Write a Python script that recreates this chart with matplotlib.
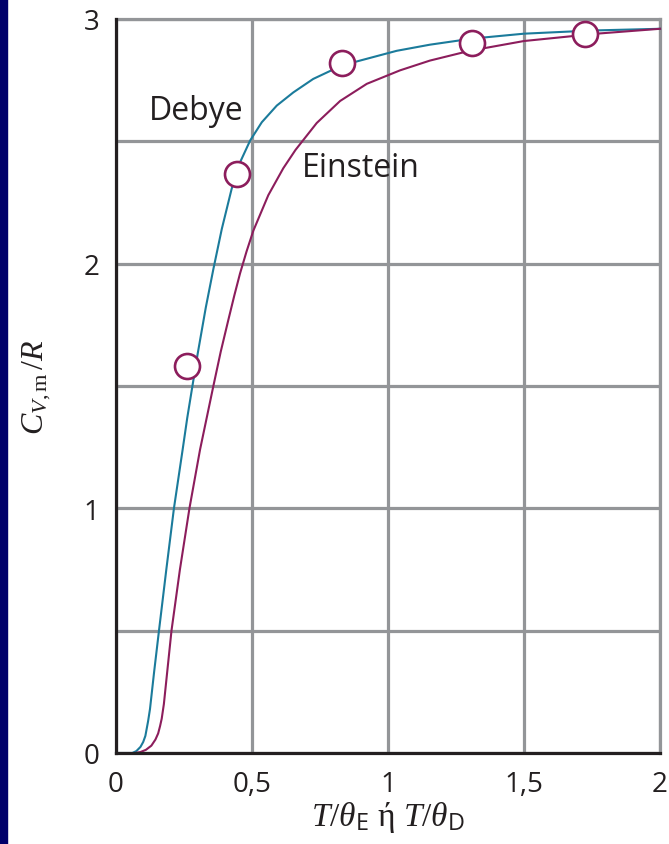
import numpy as np
import matplotlib
matplotlib.use('Agg')
import matplotlib.pyplot as plt
from matplotlib.patches import Rectangle

# Debye curve
debye_t = [0.0, 0.06, 0.075, 0.09, 0.10, 0.108, 0.113, 0.118, 0.125, 0.14, 0.158, 0.185,
           0.213, 0.245, 0.262, 0.281, 0.30, 0.33, 0.358, 0.389, 0.425, 0.456, 0.493,
           0.536, 0.591, 0.652, 0.725, 0.83, 0.897, 1.032, 1.154, 1.31, 1.5, 1.75, 2.0]
debye_c = [0.0, 0.0, 0.008, 0.025, 0.045, 0.07, 0.10, 0.13, 0.18, 0.33, 0.50, 0.75,
           1.0, 1.24, 1.37, 1.5, 1.63, 1.82, 1.978, 2.142, 2.305, 2.414, 2.503,
           2.578, 2.646, 2.70, 2.755, 2.81, 2.83, 2.87, 2.895, 2.92, 2.94, 2.953, 2.96]

# Einstein curve
einstein_t = [0.07, 0.09, 0.11, 0.13, 0.145, 0.155, 0.162, 0.168, 0.176, 0.19, 0.204,
              0.235, 0.27, 0.309, 0.358, 0.385, 0.413, 0.435, 0.456, 0.48, 0.505, 0.56,
              0.615, 0.66, 0.738, 0.824, 0.922, 1.044, 1.154, 1.3, 1.5, 1.767, 2.0]
einstein_c = [0.0, 0.004, 0.013, 0.03, 0.055, 0.08, 0.11, 0.14, 0.20, 0.35, 0.50,
              0.75, 1.0, 1.24, 1.5, 1.64, 1.77, 1.87, 1.96, 2.05, 2.135, 2.28,
              2.39, 2.465, 2.575, 2.665, 2.735, 2.79, 2.83, 2.87, 2.91, 2.94, 2.96]

# measured points (circles)
meas_t = [0.262, 0.445, 0.83, 1.308, 1.724]
meas_c = [1.583, 2.366, 2.819, 2.902, 2.939]

xticks = [0, 0.5, 1, 1.5, 2]
xticklabels = ['0', '0,5', '1', '1,5', '2']
yticks = [0, 0.5, 1, 1.5, 2, 2.5, 3]
yticklabels = ['0', '', '1', '', '2', '', '3']

teal = '#1b7b9b'
plum = '#8c1d5c'
grid_col = '#939598'
ink = '#231f20'

plt.rcParams['mathtext.fontset'] = 'custom'
plt.rcParams['mathtext.rm'] = 'Liberation Serif'
plt.rcParams['mathtext.it'] = 'Liberation Serif:italic'
plt.rcParams['mathtext.sf'] = 'Open Sans'

fig = plt.figure(figsize=(6.69, 8.45), dpi=100)
fig.patches.append(Rectangle((0, 0), 7 / 669, 1, transform=fig.transFigure,
                             color='#00006a', zorder=0))
ax = fig.add_axes([116 / 669, 91 / 845, 544 / 669, 734 / 845])

ax.plot(debye_t, debye_c, color=teal, lw=1.5, zorder=3, clip_on=False)
ax.plot(einstein_t, einstein_c, color=plum, lw=1.5, zorder=3, clip_on=False)
ax.plot(meas_t, meas_c, 'o', ms=18, mfc='white', mec=plum, mew=1.9, zorder=4, clip_on=False)

ax.set_xlim(0, 2)
ax.set_ylim(0, 3)
ax.set_xticks(xticks)
ax.set_xticklabels(xticklabels)
ax.set_yticks(yticks)
ax.set_yticklabels(yticklabels)
ax.tick_params(length=0, labelsize=20, labelcolor=ink, pad=12)
for lab in ax.get_xticklabels() + ax.get_yticklabels():
    lab.set_family('Open Sans')

ax.grid(True, color=grid_col, lw=2.3, zorder=1)
ax.set_axisbelow(True)
for s in ['left', 'bottom']:
    ax.spines[s].set_color(ink)
    ax.spines[s].set_linewidth(2.3)
    ax.spines[s].set_zorder(5)
for s in ['top', 'right']:
    ax.spines[s].set_color(grid_col)
    ax.spines[s].set_linewidth(2.3)

ax.text(0.296, 2.591, 'Debye', ha='center', va='baseline', fontsize=23,
        family='Open Sans', color=ink)
ax.text(0.90, 2.358, 'Einstein', ha='center', va='baseline', fontsize=23,
        family='Open Sans', color=ink)

ax.set_ylabel(r'$C_{V\mathrm{,m}}\,/R$', fontsize=23, color=ink, labelpad=22)
ax.set_xlabel(r'$T/\theta_{\mathsf{E}}$ ή $T/\theta_{\mathsf{D}}$', fontsize=24,
              family='Liberation Serif', color=ink, labelpad=1)

fig.savefig('out.png', dpi=100)
